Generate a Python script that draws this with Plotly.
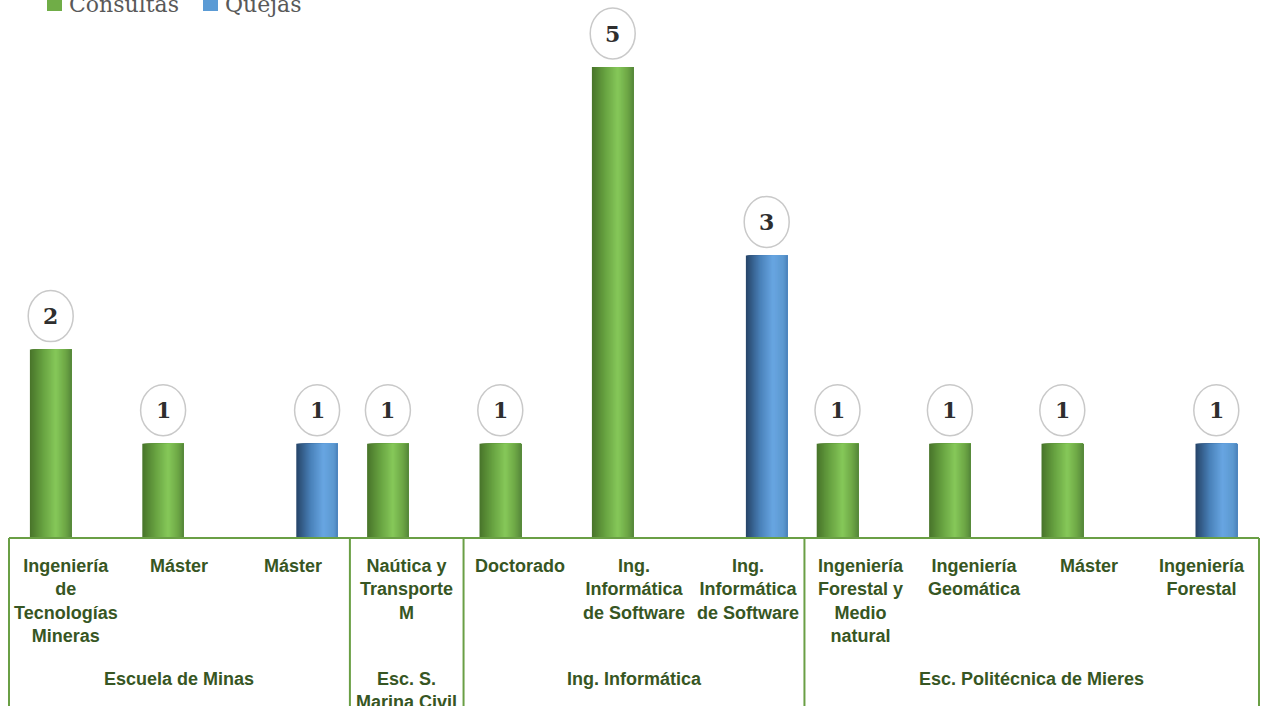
import plotly.graph_objects as go

# --- data -------------------------------------------------------------
programas = [
    "Ingeniería<br>de<br>Tecnologías<br>Mineras",
    "Máster",
    "Máster",
    "Naútica y<br>Transporte<br>M",
    "Doctorado",
    "Ing.<br>Informática<br>de Software",
    "Ing.<br>Informática<br>de Software",
    "Ingeniería<br>Forestal y<br>Medio<br>natural",
    "Ingeniería<br>Geomática",
    "Máster",
    "Ingeniería<br>Forestal",
]
centros = ["Escuela de Minas", "Esc. S.<br>Marina Civil", "Ing. Informática",
           "Esc. Politécnica de Mieres"]
centro_n = [3, 1, 3, 4]  # number of programmes under each centre

consultas = [2, 1, None, 1, 1, 5, None, 1, 1, 1, None]
quejas = [None, None, 1, None, None, None, 3, None, None, None, 1]

# --- styling ----------------------------------------------------------
GREEN_STOPS = [(0.0, (72, 116, 42)), (0.3, (102, 160, 64)), (0.62, (134, 200, 90)),
               (0.85, (110, 168, 70)), (1.0, (86, 136, 58))]
BLUE_STOPS = [(0.0, (38, 68, 104)), (0.35, (74, 130, 186)), (0.65, (104, 166, 226)),
              (0.9, (92, 152, 208)), (1.0, (76, 132, 189))]
LABEL_GREEN = "#375623"
FRAME_GREEN = "#6a9f45"
FONT_SANS = "Liberation Sans, Arial, sans-serif"
FONT_SERIF = "DejaVu Serif, Cambria, serif"

N_STRIPS = 40
BAR_W = 0.37


def shade(stops, t):
    for (t0, c0), (t1, c1) in zip(stops, stops[1:]):
        if t0 <= t <= t1:
            f = (t - t0) / (t1 - t0)
            r, g, b = (round(a + (bb - a) * f) for a, bb in zip(c0, c1))
            return f"rgb({r},{g},{b})"
    r, g, b = stops[-1][1]
    return f"rgb({r},{g},{b})"


xs = list(range(len(programas)))
fig = go.Figure()


def cylinder(values, stops, offset, name):
    """Draw a series as thin overlapping strips of varying shade (cylinder look)."""
    sw = BAR_W / N_STRIPS
    for k in range(N_STRIPS):
        t = (k + 0.5) / N_STRIPS
        # each strip reaches to the bar's right edge; later strips paint over it
        fig.add_trace(go.Bar(
            x=xs, y=values, width=BAR_W - k * sw, offset=offset + k * sw,
            marker=dict(color=shade(stops, t), line=dict(width=0)),
            name=name, showlegend=False, hoverinfo="skip",
        ))


cylinder(consultas, GREEN_STOPS, -BAR_W, "Consultas")
cylinder(quejas, BLUE_STOPS, 0.0, "Quejas")

# value bubbles above each bar
shapes = []
annotations = []
for values, offset in ((consultas, -BAR_W / 2), (quejas, BAR_W / 2)):
    for x, v in zip(xs, values):
        if v is None:
            continue
        shapes.append(dict(
            type="circle", xref="x", yref="y", xsizemode="pixel", ysizemode="pixel",
            xanchor=x + offset, yanchor=v, x0=-22.5, x1=22.5, y0=8, y1=59,
            line=dict(color="#c9c9c9", width=1.5), fillcolor="white", layer="above",
        ))
        annotations.append(dict(
            x=x + offset, y=v, xref="x", yref="y", yshift=33.5, showarrow=False,
            text=f"<b>{v}</b>", font=dict(family=FONT_SERIF, size=22, color="#2e2e2e"),
        ))

# category frame below the axis
PLOT_H = 538
n = len(programas)
bottom = -(706 - PLOT_H) / PLOT_H
shapes.append(dict(type="line", xref="paper", yref="paper", x0=0, x1=1, y0=0, y1=0,
                   line=dict(color=FRAME_GREEN, width=2)))
edge = 0
edges = [0]
for c in centro_n:
    edge += c
    edges.append(edge)
for e in edges:
    shapes.append(dict(type="line", xref="paper", yref="paper", x0=e / n, x1=e / n,
                       y0=0, y1=bottom, line=dict(color=FRAME_GREEN, width=2)))

for i, lab in enumerate(programas):
    annotations.append(dict(
        x=(i + 0.5) / n, y=-(554 - PLOT_H) / PLOT_H, xref="paper", yref="paper",
        xanchor="center", yanchor="top", showarrow=False, text=f"<b>{lab}</b>",
        font=dict(family=FONT_SANS, size=18, color=LABEL_GREEN),
    ))
for c0, c1, lab in zip(edges, edges[1:], centros):
    annotations.append(dict(
        x=(c0 + c1) / 2 / n, y=-(667 - PLOT_H) / PLOT_H, xref="paper", yref="paper",
        xanchor="center", yanchor="top", showarrow=False, text=f"<b>{lab}</b>",
        font=dict(family=FONT_SANS, size=18, color=LABEL_GREEN),
    ))

# legend keys at the top left
for x0, color, label in ((47, "#70ad47", "Consultas"), (203, "#5b9bd5", "Quejas")):
    shapes.append(dict(type="rect", xref="paper", yref="paper",
                       x0=(x0 - 9) / 1250, x1=(x0 + 15 - 9) / 1250,
                       y0=1 - 11 / PLOT_H, y1=1 + 4 / PLOT_H,
                       fillcolor=color, line=dict(width=0)))
    annotations.append(dict(
        x=(x0 + 20 - 9) / 1250, y=1 - 4 / PLOT_H, xref="paper", yref="paper",
        xanchor="left", yanchor="middle", showarrow=False, text=label,
        font=dict(family=FONT_SERIF, size=22, color="#595959"),
    ))

fig.update_layout(
    width=1261, height=706,
    margin=dict(l=9, r=2, t=0, b=706 - PLOT_H, pad=0),
    paper_bgcolor="white", plot_bgcolor="white",
    barmode="overlay", showlegend=False,
    xaxis=dict(range=[-0.556, 10.565], visible=False, fixedrange=True),
    yaxis=dict(range=[0, PLOT_H / 94.2], visible=False, fixedrange=True),
    shapes=shapes, annotations=annotations,
)

fig.write_html("out.html")
